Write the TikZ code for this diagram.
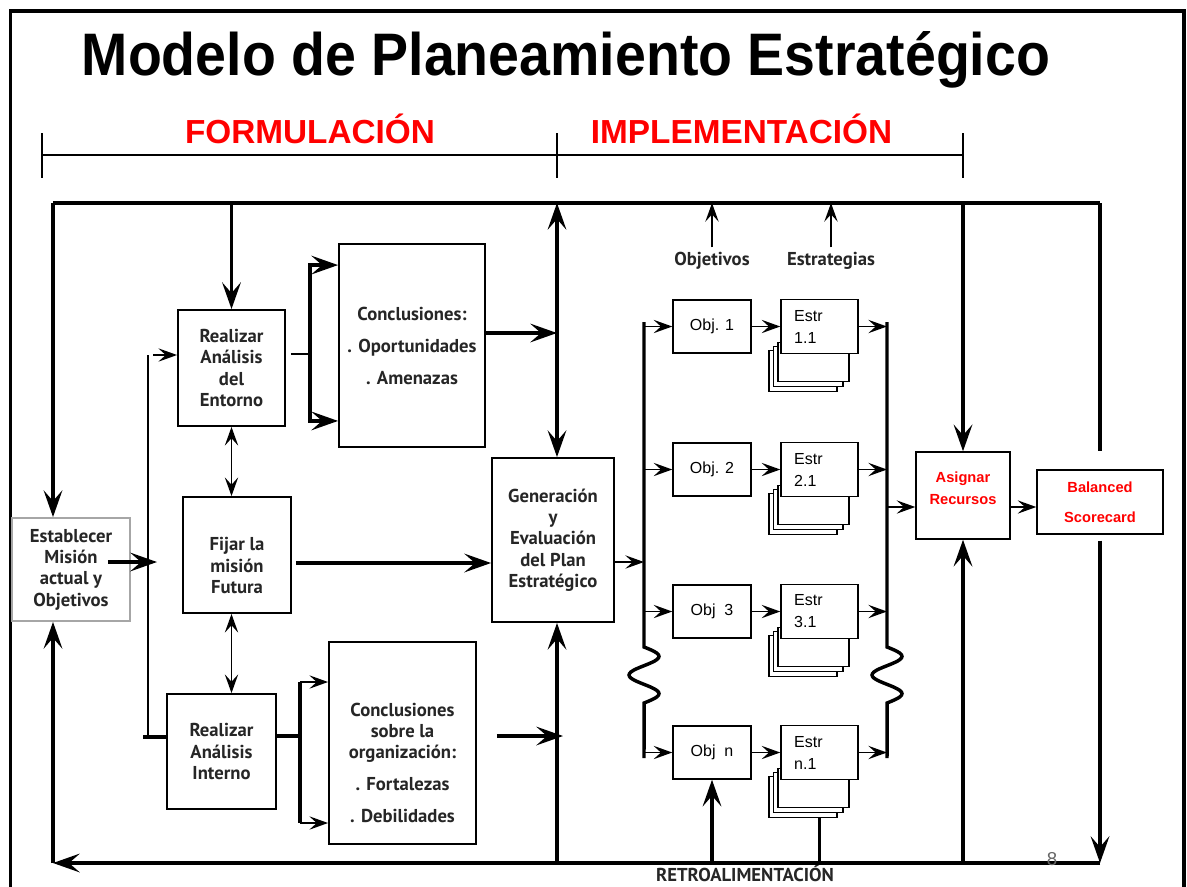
\documentclass[tikz,border=0pt]{standalone}
\usepackage{fontspec}
\setmainfont{Liberation Sans}
\newfontfamily\ptsans{PT Sans}
\usetikzlibrary{arrows.meta,calc}

\tikzset{every picture/.style={line width=0.75pt}}
\tikzset{
  sz/.style 2 args={minimum width=#1*0.75pt, minimum height=#2*0.75pt},
  boxfont/.style={font=\ptsans\bfseries\fontsize{14}{16}\selectfont, text=black!85, align=center},
  box/.style={draw, line width=1.4pt, fill=white, inner sep=2pt, boxfont},
  objbox/.style={draw, line width=1.1pt, fill=white, inner sep=1pt, sz={78}{53}, font=\fontsize{12}{16}\selectfont},
  estrbox/.style={draw, line width=1.1pt, fill=white, sz={77}{54}, text width=38pt, inner xsep=9.75pt, inner ysep=0pt, align=left, font=\fontsize{12}{16.5}\selectfont},
  page/.style={draw, line width=0.9pt, fill=white},
  redtext/.style={text=red, align=center, font=\bfseries\fontsize{11}{16.5}\selectfont},
  redbox/.style={draw, line width=1.1pt, fill=white, inner sep=1pt, redtext},
  phase/.style={anchor=base, text=red, font=\bfseries\fontsize{25}{30}\selectfont},
  flow/.style={line width=2.6pt, >={Stealth[length=20pt,width=14pt,inset=8pt]}},
  wire/.style={line width=1.2pt, >={Stealth[length=14pt,width=10pt,inset=5.5pt]}}
}

\begin{document}
\begin{tikzpicture}[x=0.75pt,y=0.75pt,yscale=-1]
\useasboundingbox (0,0) rectangle (1187,886);

%Frame
\draw[line width=2.5pt] (10.5,900) -- (10.5,11) -- (1184,11) -- (1184,900);

% Text Node
\node[anchor=base] (title) at (566,75) {\scalebox{0.925}[1]{\fontsize{45}{50}\selectfont\bfseries Modelo de Planeamiento Estratégico}};
\node[phase] (formul) at (310,143) {FORMULACIÓN};
\node[phase] (implem) at (741.5,143) {IMPLEMENTACIÓN};

%Time line
\coordinate (t0) at (42,155);
\coordinate (t1) at (557,155);
\coordinate (t2) at (963,155);
\draw[line width=1.5pt] (t0) -- (t2);
\foreach \t in {t0,t1,t2}
  \draw[line width=1.5pt] ($(\t)+(0,-22)$) -- ($(\t)+(0,23)$);

%Loop corners
\coordinate (tl) at (53,203);
\coordinate (tr) at (1100,203);
\coordinate (bl) at (53,863);
\coordinate (br) at (1100,863);
\coordinate (mid) at (557,203);

%Shape: Boxes
\node[box, draw=black!35, sz={118}{103}] (estab) at (71,569.5) {Establecer\\Misión\\actual y\\Objetivos};
\node[box, sz={107}{116}] (entorno) at (231.5,368) {Realizar\\Análisis\\del\\Entorno};
\node[box, sz={108}{116}, label={[boxfont, yshift=-8pt]center:{Fijar la\\misión\\Futura}}] (fijar) at (237,555) {};
\node[box, sz={109}{115}] (interno) at (221.5,751.5) {Realizar\\Análisis\\Interno};
\node[box, sz={146}{203}] (concl1) at (412,345.5) {Conclusiones:\\[8pt]. Oportunidades\\[8pt]. Amenazas};
\node[box, sz={147}{202}, label={[boxfont, yshift=-15pt]center:{Conclusiones\\sobre la\\organización:\\[8pt]. Fortalezas\\[8pt]. Debilidades}}] (concl2) at (402.5,743) {};
\node[box, sz={122}{164}] (gener) at (553,540) {Generación\\y\\Evaluación\\del Plan\\Estratégico};
\node[redbox, sz={94}{87}, label={[redtext, yshift=5.6pt]center:{Asignar\\Recursos}}] (asignar) at (963,495.5) {};
\node[redbox, sz={126}{64}] (balanced) at (1100,502) {Balanced\\[6pt]Scorecard};

% Text Node
\node[boxfont] (objlab) at (712,261) {Objetivos};
\node[boxfont] (estlab) at (831,261) {Estrategias};
\node[boxfont, font=\ptsans\bfseries\fontsize{14}{16}\selectfont, inner sep=1pt] (retro) at (745,873) {RETROALIMENTACIÓN};

%Outer loop
\draw[flow] (tl) -- (tr);
\draw[flow,->] (tl) -- (tl |- estab.north);
\draw[flow,->] (entorno.north |- tl) -- (entorno.north);
\draw[flow,<->] (mid) -- (mid |- gener.north);
\draw[flow,->] (asignar.north |- tl) -- (asignar.north);
\draw[flow] (tr) -- ($(balanced.north)+(0,-18)$);
\draw[flow,->] ($(balanced.south)+(0,6)$) -- (br);
\draw[flow,->] (br) -- (bl);
\draw[flow,->] (bl) -- (bl |- estab.south);
\draw[flow,->] (mid |- bl) -- (mid |- gener.south);
\draw[flow,->] (asignar.south |- bl) -- (asignar.south);

%Formulation connectors
\coordinate (bartop) at (148,355);
\coordinate (barbot) at (148,737);
\coordinate (barmid) at (157,562);
\draw[wire] (bartop) -- (barbot);
\draw[wire,->,shorten <=3.75pt] (bartop) -- (entorno.west |- bartop);
\draw[flow,shorten <=-3.75pt] (barbot) -- (interno.west |- barbot);
\draw[flow,->] ($(estab.east)+(-23,-7.5)$) -- (barmid);

\coordinate (fork1) at (310,354);
\draw[wire,shorten <=3.75pt] (entorno.east |- fork1) -- (fork1);
\draw[flow,->] (fork1) |- ($(concl1.north west)+(0,22)$);
\draw[flow,->] (fork1) |- ($(concl1.south west)+(0,-27)$);

\coordinate (fork2) at (300,736);
\coordinate (f2a) at (300,682);
\coordinate (f2b) at (300,823);
\draw[flow] (interno.east |- fork2) -- (fork2);
\draw[flow] (f2a) -- (f2b);
\draw[wire,->] (f2a) -- (f2a -| concl2.west);
\draw[wire,->] (f2b) -- (f2b -| concl2.west);

\draw[wire,<->] (entorno.south) -- (entorno.south |- fijar.north);
\draw[wire,<->] (entorno.south |- fijar.south) -- (entorno.south |- interno.north);

\coordinate (fijarout) at ($(fijar.east)+(4,8)$);
\draw[flow,->] (fijarout) -- (fijarout -| gener.west);

\coordinate (j1) at (557,333);
\draw[flow,->] (concl1.east |- j1) -- (j1);
\coordinate (j2) at (563,736);
\draw[flow,->,shorten <=15pt] (concl2.east |- j2) -- (j2);

%Implementation buses
\coordinate (lbtop) at (644,322);
\coordinate (lbbot) at (644,758);
\coordinate (rbtop) at (887,322);
\coordinate (rbbot) at (887,758);
\draw[flow] (lbtop) -- (644,647) -- plot[domain=0:1,samples=37,smooth] ({644+15*sin(540*\x)},{647+56*\x}) -- (lbbot);
\draw[flow] (rbtop) -- (887,647) -- plot[domain=0:1,samples=37,smooth] ({887+15*sin(540*\x)},{647+56*\x}) -- (rbbot);

\coordinate (genout) at ($(gener.east)+(0,22)$);
\draw[wire,->] (genout) -- (genout -| lbtop);

\foreach \n/\y/\o/\t in {1/326.5/Obj. 1/1.1, 2/469.5/Obj. 2/2.1, 3/611.5/Obj\ \ 3/3.1, n/752.5/Obj\ \ n/n.1} {
  \node[objbox] (obj\n) at (712,\y) {\o};
  \foreach \d in {2,1,0}
    \draw[page] (778-4.5*\d,\y+16+4*\d) rectangle (849-6*\d,\y+55+5*\d);
  \node[estrbox] (estr\n) at (819.5,\y) {Estr\\\t};
  \draw[wire,->] (lbtop |- obj\n) -- (obj\n);
  \draw[wire,->] (obj\n) -- (estr\n);
  \draw[wire,->] (estr\n) -- (rbtop |- estr\n);
}

\draw[wire,->] (objlab.north) -- (objlab.north |- tl);
\draw[wire,->] (estlab.north) -- (estlab.north |- tl);

\coordinate (asigin) at ($(asignar.west)+(0,11.5)$);
\draw[wire,->] (asigin -| rbtop) -- (asigin);
\draw[wire,->] (asignar.east |- asigin) -- (balanced.west |- asigin);

%Feedback
\draw[flow,->] (objn.south |- bl) -- (objn.south);
\coordinate (stackn) at (819.5,817.5);
\draw[flow] (stackn) -- (stackn |- bl);

% Text Node
\node[font=\fontsize{14}{16}\selectfont, text=black!60, inner sep=0.5pt] (pagenum) at (1052,859) {8};

\end{tikzpicture}
\end{document}
